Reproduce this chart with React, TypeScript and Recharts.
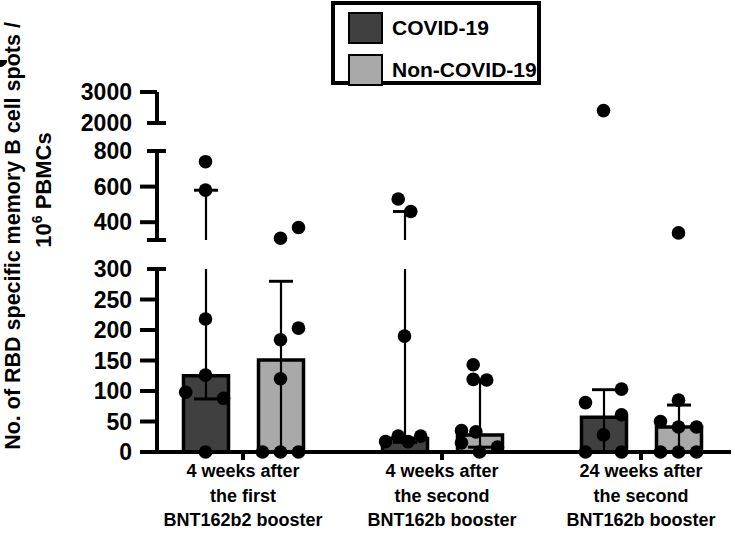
import React from 'react';
import { ComposedChart, Bar, ErrorBar, Scatter, XAxis, YAxis } from 'recharts';

// x categories, three lines each
const groupLabels = [
  ['4 weeks after', 'the first', 'BNT162b2 booster'],
  ['4 weeks after', 'the second', 'BNT162b booster'],
  ['24 weeks after', 'the second', 'BNT162b booster'],
];
const seriesNames = ['COVID-19', 'Non-COVID-19'];

// bars = median, whiskers = interquartile range
const covidMedian = [125, 22, 57];
const covidQ1 = [87, 16, 0];
const covidQ3 = [580, 460, 102];
const nonCovidMedian = [151, 28, 41];
const nonCovidQ1 = [0, 8, 0];
const nonCovidQ3 = [280, 118, 77];

// single donors
const covidPoints = [
  [740, 580, 218, 126, 98, 88, 0],
  [530, 460, 190, 26, 26, 17, 17],
  [2400, 103, 81, 61, 28, 0, 0],
];
const nonCovidPoints = [
  [370, 310, 203, 184, 120, 0, 0, 0],
  [143, 119, 118, 35, 33, 15, 8, 0],
  [340, 85, 50, 41, 41, 0, 0, 0],
];

// broken y axis segments
const topTicks = [2000, 3000];
const midTicks = [300, 400, 600, 800];
const lowTicks = [0, 50, 100, 150, 200, 250, 300];

// dot spread inside a bar (layout only, in dot widths)
const covidSpread = [
  [0, 0, 0, 0, -1.1, 1, 0],
  [-0.35, 0.35, 0, -0.35, 0.9, -1.05, 0.2],
  [0, 1, -1, 1, 0, -1, 1],
];
const nonCovidSpread = [
  [1, 0, 1, 0, 0, -1, 0, 1],
  [-0.35, -0.35, 0.4, -1, -0.2, -1, 1, 0],
  [0, 0, -1, 0, 1, -1, 0, 1],
];

const FONT = '"Liberation Sans", Arial, Helvetica, sans-serif';
const COLORS = ['#404040', '#a9a9a9'];
const W = 735;
const AXIS_X = 157;
const PAD = { left: -13.5, right: -9.5 };
const BAND = 199;
const BAR = 45;
const GAP = 30;
const SLOT = 18;

// error bar pieces for one axis segment [lo, hi]: whisker clipped to the segment, caps only when inside
const errorRows = (lo: number, hi: number) =>
  groupLabels.map((_, i) => {
    const row: any = { name: String(i), covid: covidMedian[i], nonCovid: nonCovidMedian[i] };
    const parts = [
      ['covid', covidMedian[i], covidQ1[i], covidQ3[i]],
      ['nonCovid', nonCovidMedian[i], nonCovidQ1[i], nonCovidQ3[i]],
    ] as [string, number, number, number][];
    parts.forEach(([key, m, q1, q3]) => {
      const a = Math.max(q1, lo);
      const b = Math.min(q3, hi);
      row[key + 'Line'] = a < b ? [m - a, b - m] : null;
      row[key + 'Hi'] = q3 >= lo && q3 <= hi ? [m - q3, q3 - m] : null;
      row[key + 'Lo'] = q1 >= lo && q1 <= hi ? [m - q1, q1 - m] : null;
    });
    return row;
  });

const dots = (points: number[][], spread: number[][], side: number, lo: number, hi: number) =>
  points
    .flatMap((vals, g) =>
      vals.map((v, k) => ({
        x: g + 0.5 + (side * (BAR + GAP) / 2 + spread[g][k] * SLOT) / BAND,
        y: v,
      }))
    )
    .filter((d) => d.y >= lo && d.y <= hi);

const Dot = (p: any) => <circle cx={p.cx} cy={p.cy} r={6.8} fill="#000" />;

const YTick = (p: any) => {
  const { x, y, payload, caps, unlabeled } = p;
  const ax = x + 25;
  const cap = caps.includes(payload.value);
  return (
    <g>
      <line x1={cap ? ax - 10 : ax - 17} x2={cap ? ax + 9 : ax} y1={y} y2={y} stroke="#000" strokeWidth={4} />
      {!unlabeled.includes(payload.value) && (
        <text x={x} y={y} dy="0.36em" textAnchor="end" fontFamily={FONT} fontWeight="bold" fontSize={23} fill="#000">
          {payload.value}
        </text>
      )}
    </g>
  );
};

const XTick = (p: any) => {
  const { x, y, payload } = p;
  const lines = groupLabels[Number(payload.value)];
  return (
    <text x={x} y={y} textAnchor="middle" fontFamily={FONT} fontWeight="bold" fontSize={18} fill="#000">
      {lines.map((l, i) => (
        <tspan key={i} x={x} dy={i === 0 ? 15 : 24.5}>
          {l}
        </tspan>
      ))}
    </text>
  );
};

type PanelProps = {
  top: number;
  height: number;
  mTop: number;
  mBottom: number;
  domain: [number, number];
  ticks: number[];
  caps: number[];
  unlabeled: number[];
  bottom?: boolean;
};

const whiskers = (key: string) => [
  <ErrorBar key="l" dataKey={key + 'Line'} direction="y" width={0} stroke="#000" strokeWidth={2.2} isAnimationActive={false} />,
  <ErrorBar key="h" dataKey={key + 'Hi'} direction="y" width={12} stroke="#000" strokeWidth={2.6} isAnimationActive={false} />,
  <ErrorBar key="o" dataKey={key + 'Lo'} direction="y" width={12} stroke="#000" strokeWidth={2.6} isAnimationActive={false} />,
];

const Panel = ({ top, height, mTop, mBottom, domain, ticks, caps, unlabeled, bottom }: PanelProps) => (
  <div style={{ position: 'absolute', left: 0, top }}>
    <ComposedChart
      width={W}
      height={height}
      data={errorRows(domain[0], domain[1])}
      margin={{ top: mTop, right: 4, bottom: mBottom, left: 0 }}
      barSize={BAR}
      barGap={GAP}
    >
      <XAxis
        dataKey="name"
        hide={!bottom}
        padding={PAD}
        height={86}
        interval={0}
        axisLine={{ stroke: '#000', strokeWidth: 4 }}
        tickLine={{ stroke: '#000', strokeWidth: 4 }}
        tickSize={8}
        tick={<XTick />}
      />
      <XAxis xAxisId="num" type="number" dataKey="x" domain={[0, 3]} tickCount={4} hide height={0} padding={PAD} />
      <YAxis
        yAxisId="y"
        domain={domain}
        allowDataOverflow
        ticks={ticks}
        interval={0}
        width={AXIS_X}
        axisLine={{ stroke: '#000', strokeWidth: 4 }}
        tickLine={false}
        tickSize={17}
        tickMargin={8}
        tick={(tp: any) => <YTick {...tp} caps={caps} unlabeled={unlabeled} />}
      />
      <YAxis yAxisId="pts" dataKey="y" domain={domain} hide width={0} orientation="right" />
      <Bar
        yAxisId="y"
        dataKey="covid"
        name={seriesNames[0]}
        fill={bottom ? COLORS[0] : 'none'}
        stroke={bottom ? '#000' : 'none'}
        strokeWidth={3.5}
        isAnimationActive={false}
      >
        {whiskers('covid')}
      </Bar>
      <Bar
        yAxisId="y"
        dataKey="nonCovid"
        name={seriesNames[1]}
        fill={bottom ? COLORS[1] : 'none'}
        stroke={bottom ? '#000' : 'none'}
        strokeWidth={3.5}
        isAnimationActive={false}
      >
        {whiskers('nonCovid')}
      </Bar>
      <Scatter
        xAxisId="num"
        yAxisId="pts"
        data={dots(covidPoints, covidSpread, -1, domain[0], domain[1])}
        shape={Dot}
        isAnimationActive={false}
      />
      <Scatter
        xAxisId="num"
        yAxisId="pts"
        data={dots(nonCovidPoints, nonCovidSpread, 1, domain[0], domain[1])}
        shape={Dot}
        isAnimationActive={false}
      />
    </ComposedChart>
  </div>
);

export default function App() {
  return (
    <div style={{ position: 'absolute', left: 0, top: 0, width: W, height: 538, background: '#fff' }}>
      <Panel top={60} height={75} mTop={32} mBottom={12} domain={[2000, 3000]} ticks={topTicks} caps={[2000]} unlabeled={[]} />
      <Panel top={135} height={120} mTop={16} mBottom={15} domain={[300, 800]} ticks={midTicks} caps={[300, 800]} unlabeled={[300]} />
      <Panel top={255} height={283} mTop={14} mBottom={0} domain={[0, 300]} ticks={lowTicks} caps={[300]} unlabeled={[]} bottom />

      <svg width={62} height={538} style={{ position: 'absolute', left: 0, top: 0 }}>
        <text transform="translate(20, 236) rotate(-90)" textAnchor="middle" fontFamily={FONT} fontWeight="bold" fontSize={21.5} fill="#000">
          No. of RBD specific memory B cell spots /
        </text>
        <text transform="translate(51, 190) rotate(-90)" textAnchor="middle" fontFamily={FONT} fontWeight="bold" fontSize={22} fill="#000">
          10
          <tspan dy={-9} fontSize={14}>6</tspan>
          <tspan dy={9}> PBMCs</tspan>
        </text>
      </svg>

      <div
        style={{
          position: 'absolute',
          left: 331,
          top: 1,
          width: 202,
          height: 76,
          border: '4px solid #000',
          background: '#fff',
          fontFamily: FONT,
          fontWeight: 'bold',
          fontSize: 21,
          whiteSpace: 'nowrap',
        }}
      >
        {seriesNames.map((n, i) => (
          <div key={n} style={{ position: 'absolute', left: 13, top: 7 + i * 42, display: 'flex', alignItems: 'center' }}>
            <span style={{ display: 'inline-block', width: 31, height: 28, background: COLORS[i], border: '2px solid #000' }} />
            <span style={{ marginLeft: 9 }}>{n}</span>
          </div>
        ))}
      </div>
    </div>
  );
}
